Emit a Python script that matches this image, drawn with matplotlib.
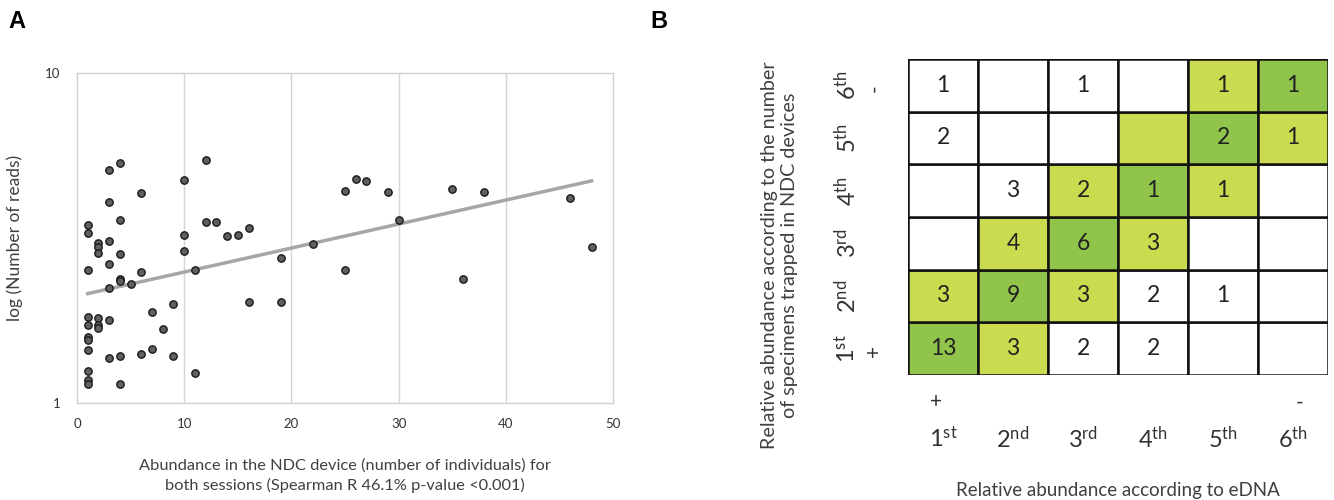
import numpy as np
import matplotlib
matplotlib.use("Agg")
import matplotlib.pyplot as plt
from matplotlib.patches import Rectangle

plt.rcParams['font.family'] = ['Lato', 'DejaVu Sans']
plt.rcParams['mathtext.fontset'] = 'custom'
plt.rcParams['mathtext.rm'] = 'Lato'
plt.rcParams['mathtext.it'] = 'Lato'

# ---------------- Panel A data ----------------
abundance_ndc = [1, 1, 2, 2, 2, 3, 4, 3, 4, 3, 4, 3, 1, 4, 4, 3, 5, 6, 6,
                 10, 10, 10, 11, 12, 12, 13, 14, 15, 16, 19, 22, 9, 7, 8, 16, 19,
                 1, 1, 2, 2, 2, 3, 1, 1, 1, 3, 4, 6, 7, 9, 1, 1, 1, 4, 11,
                 25, 26, 27, 29, 30, 35, 38, 46, 48, 25, 36]
reads = [3.46, 3.28, 3.06, 2.96, 2.85, 5.09, 5.34, 4.06, 3.59, 3.09, 2.83, 2.63, 2.53,
         2.38, 2.34, 2.23, 2.30, 4.33, 2.49,
         4.75, 3.23, 2.89, 2.53, 5.45, 3.54, 3.54, 3.20, 3.23, 3.38, 2.75, 3.03,
         2.00, 1.89, 1.68, 2.02, 2.02,
         1.82, 1.72, 1.81, 1.72, 1.69, 1.78, 1.58, 1.55, 1.45, 1.37, 1.39, 1.41,
         1.46, 1.39, 1.25, 1.17, 1.14, 1.14, 1.23,
         4.40, 4.78, 4.70, 4.37, 3.59, 4.46, 4.37, 4.18, 2.98, 2.53, 2.37]
x_ticks_a = [0, 10, 20, 30, 40, 50]
y_ticks_a = [1, 10]

# ---------------- Panel B data ----------------
ranks = ['1st', '2nd', '3rd', '4th', '5th', '6th']
# rows: NDC rank 1st..6th (bottom to top); columns: eDNA rank 1st..6th
counts = [
    [13, 3, 2, 2, None, None],      # 1st
    [3, 9, 3, 2, 1, None],          # 2nd
    [None, 4, 6, 3, None, None],    # 3rd
    [None, 3, 2, 1, 1, None],       # 4th
    [2, None, None, None, 2, 1],    # 5th
    [1, None, 1, None, 1, 1],       # 6th
]
# 0 = white, 1 = light green, 2 = dark green
shade = [
    [2, 1, 0, 0, 0, 0],
    [1, 2, 1, 0, 0, 0],
    [0, 1, 2, 1, 0, 0],
    [0, 0, 1, 2, 1, 0],
    [0, 0, 0, 1, 2, 1],
    [0, 0, 0, 0, 1, 2],
]
shade_colors = ['#ffffff', '#cbdb4f', '#91c44b']

fig = plt.figure(figsize=(13.34, 5.0), dpi=100)

# ---------------- Panel A ----------------
axA = fig.add_axes([77 / 1334, 97 / 500, 536 / 1334, 330 / 500])
axA.set_yscale('log')
axA.set_xlim(0, 50)
axA.set_ylim(1, 10)
for xv in x_ticks_a[1:-1]:
    axA.axvline(xv, color='#cfd6dc', lw=1.0, zorder=0)
for sp in axA.spines.values():
    sp.set_color('#d0d0d0')
    sp.set_linewidth(1.0)

xa = np.array(abundance_ndc, dtype=float)
ya = np.array(reads, dtype=float)
coef = np.polyfit(xa, np.log10(ya), 1)
xt = np.linspace(xa.min(), xa.max(), 50)
axA.plot(xt, 10 ** np.polyval(coef, xt), color='#a6a6a6', lw=2.5, zorder=2)
axA.scatter(xa, ya, s=28, facecolor='#5f5f5f', edgecolor='#1a1a1a', linewidths=1.0, zorder=3)

axA.set_xticks(x_ticks_a)
axA.set_xticklabels([str(v) for v in x_ticks_a])
axA.set_yticks(y_ticks_a)
axA.set_yticklabels([str(v) for v in y_ticks_a])
axA.yaxis.set_minor_locator(matplotlib.ticker.NullLocator())
axA.tick_params(axis='both', length=0, labelsize=9.5, colors='#333333', pad=11)
axA.tick_params(axis='y', pad=12)
axA.set_ylabel('log (Number of reads)', fontsize=12.5, color='#404040', labelpad=16)
axA.set_xlabel('Abundance in the NDC device (number of individuals) for\nboth sessions (Spearman R 46.1% p-value <0.001)',
               fontsize=11.8, color='#404040', labelpad=20, linespacing=1.45)

fig.text(8 / 1334, 1 - 22 / 500, 'A', fontsize=17, fontweight='bold', va='center', ha='left',
         family=['Liberation Sans', 'DejaVu Sans'])
fig.text(650 / 1334, 1 - 22 / 500, 'B', fontsize=17, fontweight='bold', va='center', ha='left',
         family=['Liberation Sans', 'DejaVu Sans'])

# ---------------- Panel B ----------------
axB = fig.add_axes([908 / 1334, 125 / 500, 420 / 1334, 316 / 500])
axB.set_xlim(0, 6)
axB.set_ylim(0, 6)
axB.axis('off')
for r in range(6):
    for c in range(6):
        axB.add_patch(Rectangle((c, r), 1, 1, facecolor=shade_colors[shade[r][c]],
                                edgecolor='#111111', lw=1.8, zorder=1))
        v = counts[r][c]
        if v is not None:
            axB.text(c + 0.5, r + 0.5, str(v), ha='center', va='center', fontsize=16.5, color='#222222', zorder=2)

def ordinal(s):
    return s[0] + r'$^{\mathrm{' + s[1:] + '}}$'

for i, rk in enumerate(ranks):
    axB.text(i + 0.5, -1.2, ordinal(rk), ha='center', va='center', fontsize=17, color='#333333', clip_on=False)
    axB.text(-0.87, i + 0.5, ordinal(rk), ha='center', va='center', fontsize=17, color='#333333',
             rotation=90, clip_on=False)
axB.text(0.4, -0.52, '+', ha='center', va='center', fontsize=15, color='#333333', clip_on=False)
axB.text(5.6, -0.52, '-', ha='center', va='center', fontsize=15, color='#333333', clip_on=False)
axB.text(-0.48, 0.45, '+', ha='center', va='center', fontsize=15, color='#333333', rotation=90, clip_on=False)
axB.text(-0.48, 5.45, '-', ha='center', va='center', fontsize=15, color='#333333', rotation=90, clip_on=False)

axB.text(3.0, -2.2, 'Relative abundance according to eDNA', ha='center', va='center',
         fontsize=13.5, color='#404040', clip_on=False)
axB.text(-1.84, 2.28, 'Relative abundance according to the number\nof specimens trapped in NDC devices',
         ha='center', va='center', fontsize=14.2, color='#404040', rotation=90, linespacing=1.2, clip_on=False)

fig.savefig('out.png', dpi=100)
